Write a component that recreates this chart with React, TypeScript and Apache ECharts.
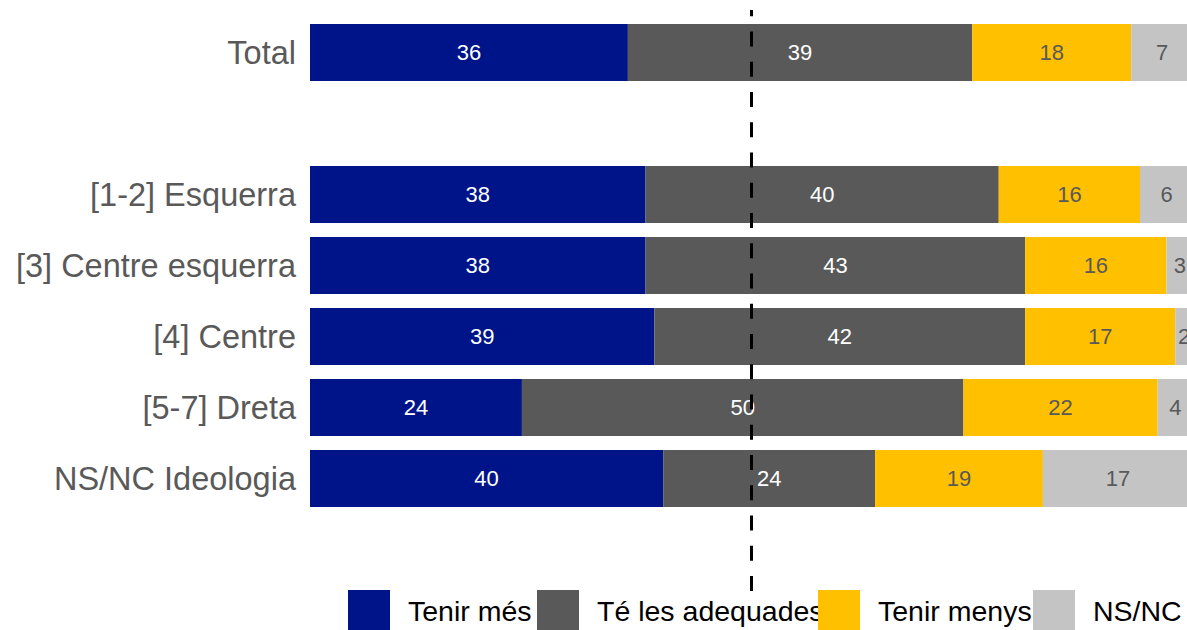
import React, { useEffect, useRef } from "react";
import * as echarts from "echarts";

const categories = ["Total", "", "[1-2] Esquerra", "[3] Centre esquerra", "[4] Centre", "[5-7] Dreta", "NS/NC Ideologia"];
const seriesNames = ["Tenir més", "Té les adequades", "Tenir menys", "NS/NC"];
const tenirMes = [36, null, 38, 38, 39, 24, 40];
const teAdequades = [39, null, 40, 43, 42, 50, 24];
const tenirMenys = [18, null, 16, 16, 17, 22, 19];
const nsnc = [7, null, 6, 3, 2, 4, 17];
const referenceValue = 50;

const colors = ["#001489", "#595959", "#FFC000", "#C4C4C4"];
const labelColors = ["#ffffff", "#ffffff", "#595959", "#595959"];
const legendLefts = [348, 537, 818, 1033];

const FONT = "'Liberation Sans', Arial, sans-serif";

export default function App() {
  const ref = useRef<HTMLDivElement>(null);
  useEffect(() => {
    if (!ref.current) return;
    const chart = echarts.init(ref.current, null, { renderer: "svg" });
    const values = [tenirMes, teAdequades, tenirMenys, nsnc];
    const barSeries = seriesNames.map((name, i) => ({
      name,
      type: "bar",
      stack: "total",
      xAxisIndex: 0,
      yAxisIndex: 0,
      barWidth: "80%",
      data: values[i],
      itemStyle: { color: colors[i] },
      label: {
        show: true,
        position: "inside",
        color: labelColors[i],
        fontSize: 22,
        fontFamily: FONT,
        formatter: (p: any) => (p.value == null ? "" : String(p.value)),
      },
    }));
    chart.setOption({
      animation: false,
      backgroundColor: "#ffffff",
      grid: [
        { left: 310, right: 0, top: 17, height: 497 },
        { left: 310, right: 0, top: 10, bottom: 39 },
      ],
      xAxis: [
        { type: "value", gridIndex: 0, min: 0, max: 100, show: false },
        { type: "value", gridIndex: 1, min: 0, max: 100, show: false },
      ],
      yAxis: [
        {
          type: "category",
          gridIndex: 0,
          data: categories,
          inverse: true,
          axisLine: { show: false },
          axisTick: { show: false },
          splitLine: { show: false },
          axisLabel: { color: "#595959", fontSize: 32.5, fontFamily: FONT, margin: 14 },
        },
        { type: "value", gridIndex: 1, min: 0, max: 1, show: false },
      ],
      legend: seriesNames.map((name, i) => ({
        data: [name],
        left: legendLefts[i],
        top: 590,
        padding: 0,
        itemWidth: 42,
        itemHeight: 42,
        icon: "rect",
        selectedMode: false,
        textStyle: { color: "#000000", fontSize: 28.5, fontFamily: FONT, padding: [0, 0, 0, 13] },
      })),
      series: [
        ...barSeries,
        {
          name: "ref",
          type: "line",
          xAxisIndex: 1,
          yAxisIndex: 1,
          data: [[referenceValue, 0]],
          symbol: "none",
          silent: true,
          z: 5,
          lineStyle: { opacity: 0 },
          markLine: {
            silent: true,
            symbol: ["none", "none"],
            label: { show: false },
            lineStyle: { color: "#000000", width: 3, type: [15, 15.25], dashOffset: 0 },
            data: [{ xAxis: referenceValue }],
          },
        },
      ],
    });
    return () => chart.dispose();
  }, []);
  return <div ref={ref} style={{ position: "fixed", left: 0, top: 0, width: 1193, height: 630 }} />;
}
